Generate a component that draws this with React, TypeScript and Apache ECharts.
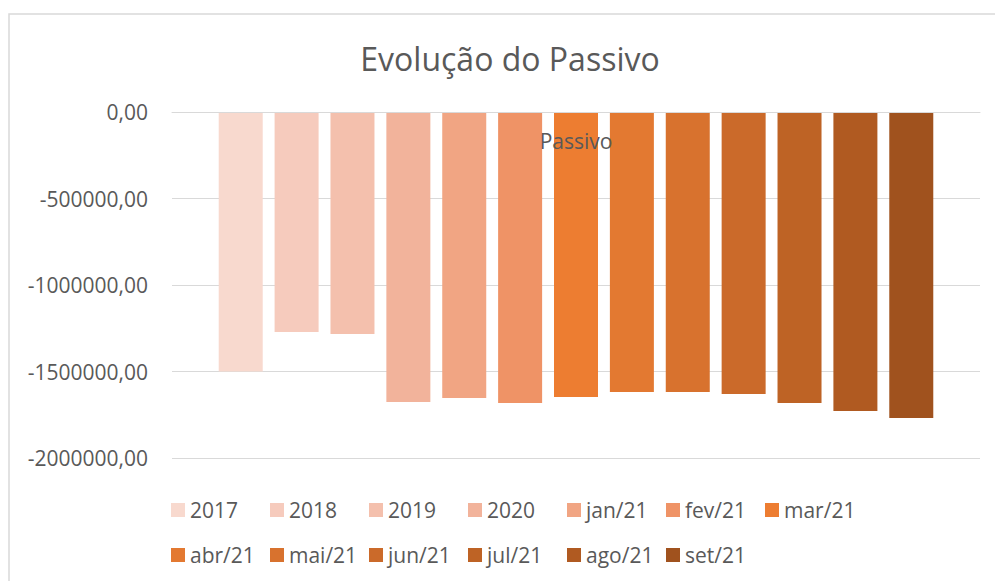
import React, { useEffect, useRef } from "react";
import * as echarts from "echarts";

const categories = ["Passivo"];
const seriesNames = ["2017", "2018", "2019", "2020", "jan/21", "fev/21", "mar/21", "abr/21", "mai/21", "jun/21", "jul/21", "ago/21", "set/21"];
const seriesValues = [-1500000, -1272000, -1283000, -1676000, -1653000, -1682000, -1647000, -1618000, -1618000, -1630000, -1682000, -1728000, -1769000];
const seriesColors = ["#F8D9CE", "#F6CBBD", "#F4C0AD", "#F2B39B", "#F1A583", "#EF9366", "#ED7D31", "#E37931", "#D8722E", "#CB6A2A", "#BE6325", "#B05A21", "#A0521E"];
const yTicks = { min: -2000000, max: 0, interval: 500000 };
const title = "Evolução do Passivo";

const FONT = "'Open Sans', 'Noto Sans', sans-serif";
const GRAY = "#595959";

export default function App() {
  const ref = useRef<HTMLDivElement>(null);
  useEffect(() => {
    if (!ref.current) return;
    const chart = echarts.init(ref.current, null, { renderer: "svg" });
    const legendText = { color: GRAY, fontSize: 21, fontFamily: FONT, width: 80, lineHeight: 24 };
    chart.setOption({
      animation: false,
      backgroundColor: "#ffffff",
      graphic: [
        {
          type: "rect",
          shape: { x: 9, y: 14, width: 1000, height: 600 },
          style: { fill: "none", stroke: "#D9D9D9", lineWidth: 1.5 },
          silent: true,
        },
        {
          type: "text",
          x: 510,
          y: 58,
          silent: true,
          style: {
            text: title,
            fill: GRAY,
            fontSize: 32,
            fontFamily: FONT,
            textAlign: "center",
            textVerticalAlign: "middle",
          },
        },
      ],
      legend: [
        {
          data: seriesNames.slice(0, 7),
          left: 171,
          top: 498,
          padding: 0,
          itemGap: 0,
          itemWidth: 14,
          itemHeight: 14,
          icon: "rect",
          textStyle: legendText,
        },
        {
          data: seriesNames.slice(7),
          left: 171,
          top: 543,
          padding: 0,
          itemGap: 0,
          itemWidth: 14,
          itemHeight: 14,
          icon: "rect",
          textStyle: legendText,
        },
      ],
      grid: { left: 172, right: 15, top: 112, bottom: 123, containLabel: false },
      xAxis: {
        type: "category",
        data: categories,
        position: "top",
        z: 10,
        axisLine: { show: true, onZero: false, lineStyle: { color: "#D9D9D9", width: 1 } },
        axisTick: { show: false },
        axisLabel: { color: GRAY, fontSize: 21, fontFamily: FONT, margin: 18, inside: true },
      },
      yAxis: {
        type: "value",
        min: yTicks.min,
        max: yTicks.max,
        interval: yTicks.interval,
        axisLine: { show: false },
        axisTick: { show: false },
        splitLine: { lineStyle: { color: "#D9D9D9", width: 1 } },
        axisLabel: {
          color: GRAY,
          fontSize: 21,
          fontFamily: FONT,
          margin: 24,
          formatter: (v: number) => v.toFixed(2).replace(".", ","),
        },
      },
      series: seriesNames.map((name, i) => ({
        name,
        type: "bar",
        data: [seriesValues[i]],
        barWidth: 44,
        barGap: "27%",
        itemStyle: { color: seriesColors[i] },
      })),
    });
    return () => chart.dispose();
  }, []);
  return <div ref={ref} style={{ position: "fixed", left: 0, top: 0, width: 995, height: 581 }} />;
}
